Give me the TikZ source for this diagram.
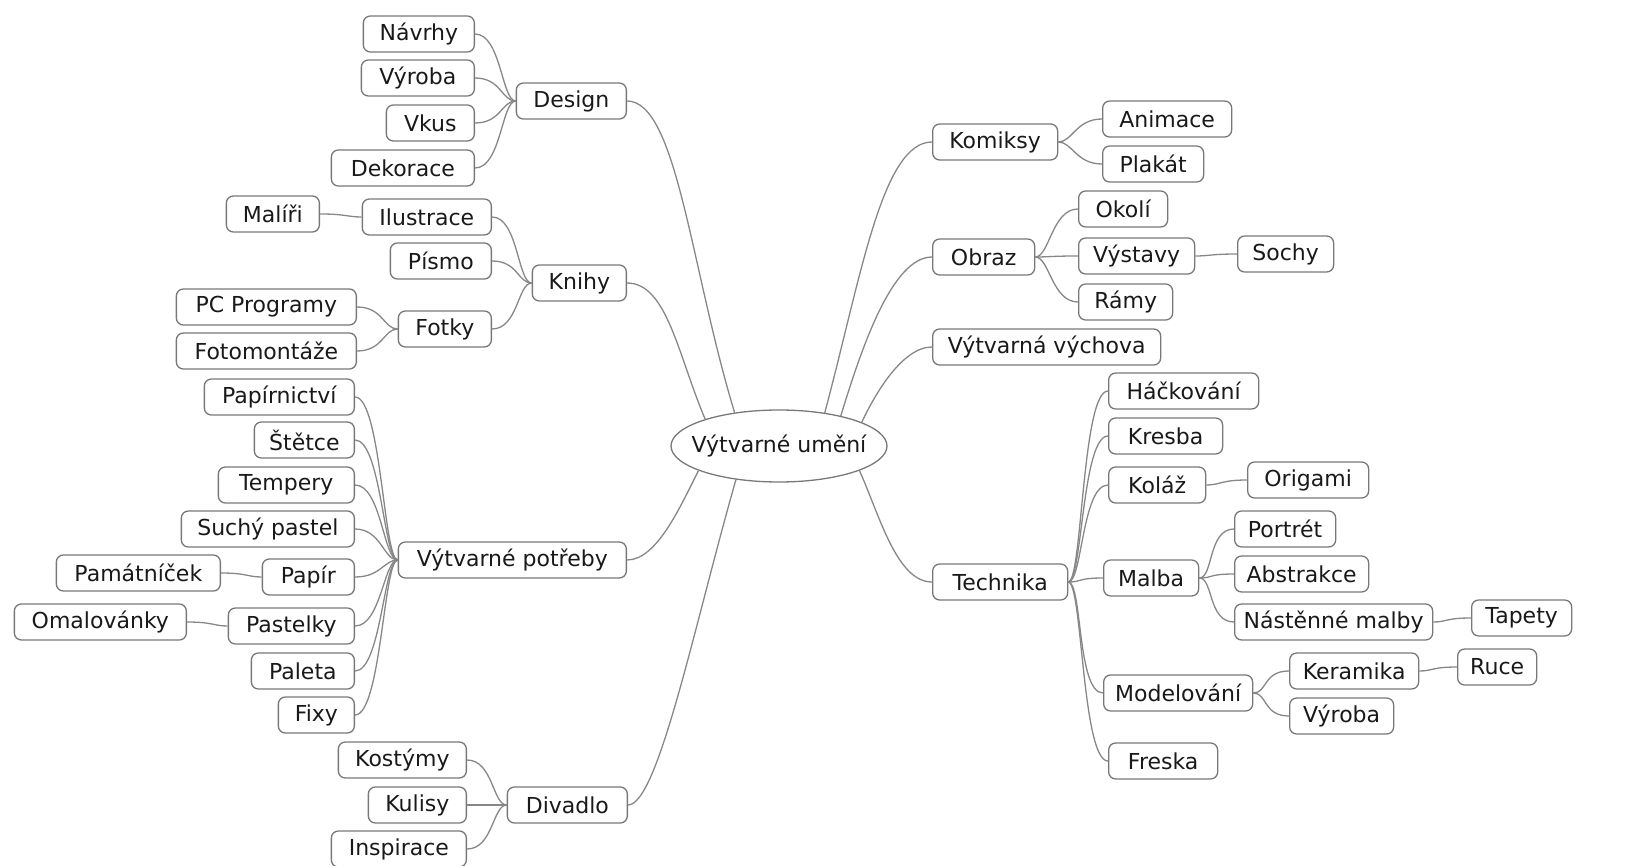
\documentclass[tikz,border=0pt]{standalone}
\usepackage{fontspec}
\setmainfont{DejaVu Sans}
\usetikzlibrary{shapes.geometric}
\definecolor{boxgray}{RGB}{120,120,120}
\definecolor{linegray}{RGB}{135,135,135}
\definecolor{txtgray}{RGB}{25,25,25}
\tikzset{
	item/.style={draw=boxgray, line width=1.3pt, rounded corners=7pt, minimum height=36pt, inner xsep=6pt, inner ysep=0pt, text=txtgray, font=\fontsize{22}{26}\selectfont},
	topic/.style={ellipse, draw=boxgray, line width=1.3pt, minimum width=216pt, minimum height=72pt, inner xsep=-14pt, inner ysep=0pt, text=txtgray, font=\fontsize{22}{26}\selectfont},
	link/.style={draw=linegray, line width=1.3pt},
	lkid/.style={out=0, in=180, out distance=26pt, in distance=14pt},
	rkid/.style={out=0, in=180, out distance=14pt, in distance=26pt}
}
\begin{document}
\begin{tikzpicture}[x=1pt, y=1pt]
	\useasboundingbox (0,0) rectangle (1625,-866);
	\node[topic] (root) at (779,-446) {Výtvarné umění};
	% left
	\node[item, anchor=east, minimum width=110pt] (design) at (627,-101) {Design};
	\node[item, anchor=east, minimum width=111pt] (navrhy) at (475,-34) {Návrhy};
	\node[item, anchor=east, minimum width=113pt] (vyroba) at (475,-78) {Výroba};
	\node[item, anchor=east, minimum width=88pt] (vkus) at (475,-123) {Vkus};
	\node[item, anchor=east, minimum width=143pt] (dekorace) at (475,-168) {Dekorace};
	\node[item, anchor=east, minimum width=94pt] (knihy) at (627,-283) {Knihy};
	\node[item, anchor=east, minimum width=129pt] (ilustrace) at (492,-217) {Ilustrace};
	\node[item, anchor=east, minimum width=101pt] (pismo) at (492,-261) {Písmo};
	\node[item, anchor=east, minimum width=93pt] (fotky) at (492,-329) {Fotky};
	\node[item, anchor=east, minimum width=93pt] (maliri) at (320,-214) {Malíři};
	\node[item, anchor=east, minimum width=180pt] (pcprog) at (357,-307) {PC Programy};
	\node[item, anchor=east, minimum width=180pt] (fotomont) at (357,-351) {Fotomontáže};
	\node[item, anchor=east, minimum width=228pt] (potreby) at (627,-560) {Výtvarné potřeby};
	\node[item, anchor=east, minimum width=150pt] (papirn) at (355,-397) {Papírnictví};
	\node[item, anchor=east, minimum width=100pt] (stetce) at (355,-440) {Štětce};
	\node[item, anchor=east, minimum width=136pt] (tempery) at (355,-485) {Tempery};
	\node[item, anchor=east, minimum width=173pt] (suchy) at (355,-529) {Suchý pastel};
	\node[item, anchor=east, minimum width=92pt] (papir) at (355,-577) {Papír};
	\node[item, anchor=east, minimum width=126pt] (pastelky) at (355,-626) {Pastelky};
	\node[item, anchor=east, minimum width=103pt] (paleta) at (355,-671) {Paleta};
	\node[item, anchor=east, minimum width=76pt] (fixy) at (355,-715) {Fixy};
	\node[item, anchor=east, minimum width=164pt] (pamatnicek) at (221,-573) {Památníček};
	\node[item, anchor=east, minimum width=172pt] (omalovanky) at (187,-622) {Omalovánky};
	\node[item, anchor=east, minimum width=120pt] (divadlo) at (628,-805) {Divadlo};
	\node[item, anchor=east, minimum width=128pt] (kostymy) at (467,-760) {Kostýmy};
	\node[item, anchor=east, minimum width=98pt] (kulisy) at (467,-805) {Kulisy};
	\node[item, anchor=east, minimum width=135pt] (inspirace) at (467,-849) {Inspirace};
	% right
	\node[item, anchor=west, minimum width=125pt] (komiksy) at (932,-142) {Komiksy};
	\node[item, anchor=west, minimum width=129pt] (animace) at (1102,-119) {Animace};
	\node[item, anchor=west, minimum width=101pt] (plakat) at (1102,-164) {Plakát};
	\node[item, anchor=west, minimum width=102pt] (obraz) at (932,-257) {Obraz};
	\node[item, anchor=west, minimum width=89pt] (okoli) at (1078,-209) {Okolí};
	\node[item, anchor=west, minimum width=116pt] (vystavy) at (1078,-256) {Výstavy};
	\node[item, anchor=west, minimum width=94pt] (ramy) at (1078,-302) {Rámy};
	\node[item, anchor=west, minimum width=96pt] (sochy) at (1237,-254) {Sochy};
	\node[item, anchor=west, minimum width=228pt] (vychova) at (932,-347) {Výtvarná výchova};
	\node[item, anchor=west, minimum width=135pt] (technika) at (932,-582) {Technika};
	\node[item, anchor=west, minimum width=150pt] (hackovani) at (1108,-391) {Háčkování};
	\node[item, anchor=west, minimum width=114pt] (kresba) at (1108,-436) {Kresba};
	\node[item, anchor=west, minimum width=97pt] (kolaz) at (1108,-485) {Koláž};
	\node[item, anchor=west, minimum width=121pt] (origami) at (1247,-480) {Origami};
	\node[item, anchor=west, minimum width=95pt] (malba) at (1103,-578) {Malba};
	\node[item, anchor=west, minimum width=101pt] (portret) at (1234,-529) {Portrét};
	\node[item, anchor=west, minimum width=134pt] (abstrakce) at (1234,-574) {Abstrakce};
	\node[item, anchor=west, minimum width=198pt] (nastenne) at (1234,-622) {Nástěnné malby};
	\node[item, anchor=west, minimum width=100pt] (tapety) at (1471,-618) {Tapety};
	\node[item, anchor=west, minimum width=149pt] (modelovani) at (1103,-693) {Modelování};
	\node[item, anchor=west, minimum width=129pt] (keramika) at (1289,-671) {Keramika};
	\node[item, anchor=west, minimum width=79pt] (ruce) at (1457,-667) {Ruce};
	\node[item, anchor=west, minimum width=104pt] (vyrobab) at (1289,-716) {Výroba};
	\node[item, anchor=west, minimum width=109pt] (freska) at (1108,-761) {Freska};
	% links to root
	\draw[link] (design.east) to[out=0, in=107, out distance=50pt, in distance=150pt] (root.143);
	\draw[link] (knihy.east) to[out=0, in=113, out distance=40pt, in distance=70pt] (root.160);
	\draw[link] (potreby.east) to[out=0, in=243, out distance=30pt, in distance=40pt] (root.197);
	\draw[link] (divadlo.east) to[out=0, in=254, out distance=30pt, in distance=150pt] (root.218);
	\draw[link] (root.36) to[out=75, in=180, out distance=140pt, in distance=50pt] (komiksy.west);
	\draw[link] (root.26) to[out=73, in=180, out distance=70pt, in distance=40pt] (obraz.west);
	\draw[link] (root.16) to[out=65, in=180, out distance=30pt, in distance=30pt] (vychova.west);
	\draw[link] (root.343) to[out=-66, in=180, out distance=50pt, in distance=35pt] (technika.west);
	% left branches
	\foreach \kid in {navrhy,vyroba,vkus,dekorace}
		\draw[link] (\kid.east) to[lkid] (design.west);
	\foreach \kid in {ilustrace,pismo,fotky}
		\draw[link] (\kid.east) to[lkid] (knihy.west);
	\foreach \kid in {pcprog,fotomont}
		\draw[link] (\kid.east) to[lkid] (fotky.west);
	\draw[link] (maliri.east) to[lkid] (ilustrace.west);
	\foreach \kid in {papirn,stetce,tempery,suchy,papir,pastelky,paleta,fixy}
		\draw[link] (\kid.east) to[lkid] (potreby.west);
	\draw[link] (pamatnicek.east) to[lkid] (papir.west);
	\draw[link] (omalovanky.east) to[lkid] (pastelky.west);
	\foreach \kid in {kostymy,kulisy,inspirace}
		\draw[link] (\kid.east) to[lkid] (divadlo.west);
	% right branches
	\foreach \kid in {animace,plakat}
		\draw[link] (komiksy.east) to[rkid] (\kid.west);
	\foreach \kid in {okoli,vystavy,ramy}
		\draw[link] (obraz.east) to[rkid] (\kid.west);
	\draw[link] (vystavy.east) to[rkid] (sochy.west);
	\foreach \kid in {hackovani,kresba,kolaz,malba,modelovani,freska}
		\draw[link] (technika.east) to[rkid] (\kid.west);
	\draw[link] (kolaz.east) to[rkid] (origami.west);
	\foreach \kid in {portret,abstrakce,nastenne}
		\draw[link] (malba.east) to[rkid] (\kid.west);
	\draw[link] (nastenne.east) to[rkid] (tapety.west);
	\foreach \kid in {keramika,vyrobab}
		\draw[link] (modelovani.east) to[rkid] (\kid.west);
	\draw[link] (keramika.east) to[rkid] (ruce.west);
\end{tikzpicture}
\end{document}
